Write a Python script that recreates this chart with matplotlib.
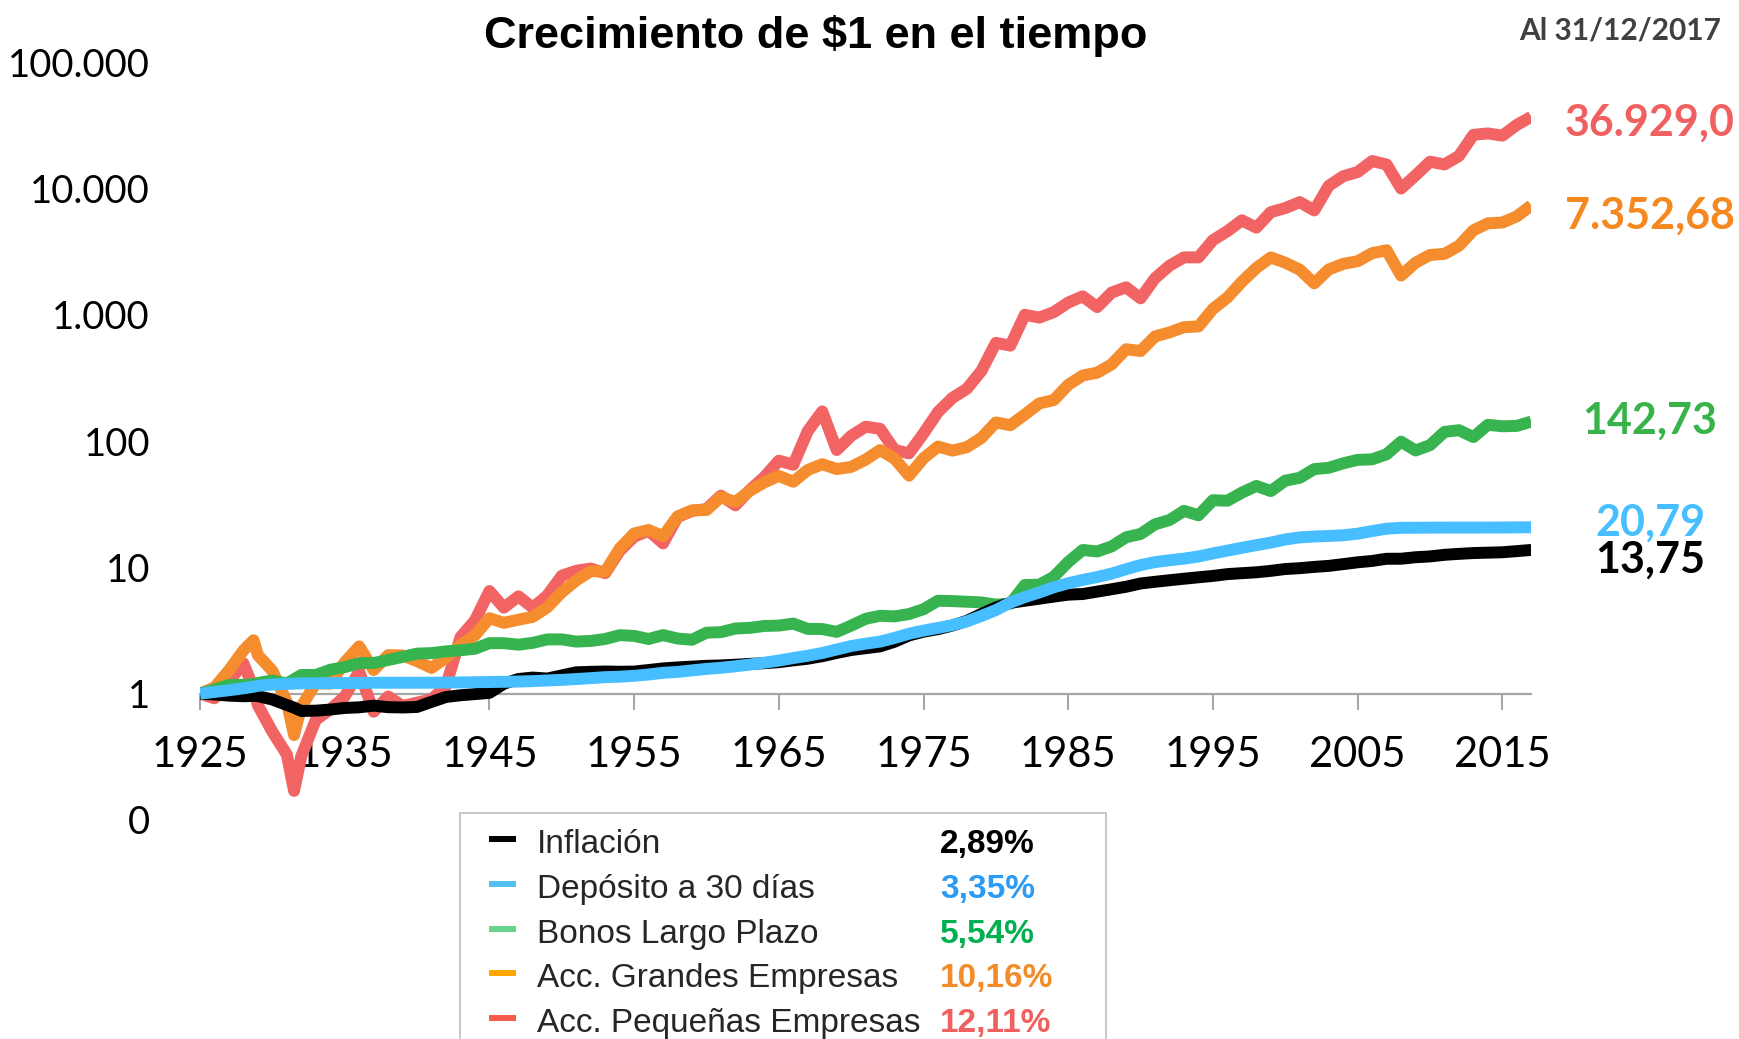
import matplotlib
matplotlib.use('Agg')
import matplotlib.pyplot as plt
from matplotlib.lines import Line2D
from matplotlib.patches import Rectangle
from matplotlib.ticker import NullLocator

# ---------------- data ----------------
anios = [1925, 1926, 1927, 1928, 1928.7, 1929, 1930, 1931, 1931.5] + list(range(1932, 2018))

inflacion = [1.000, 0.985, 0.965, 0.955, 0.960, 0.957, 0.899, 0.814, 0.775, 0.730,
             0.734, 0.749, 0.771, 0.780, 0.804, 0.782, 0.778, 0.785, 0.862, 0.942,
             0.972, 0.993, 1.015, 1.199, 1.307, 1.342, 1.318, 1.395, 1.477, 1.490,
             1.499, 1.492, 1.497, 1.540, 1.586, 1.615, 1.639, 1.663, 1.674, 1.695,
             1.723, 1.743, 1.777, 1.836, 1.892, 1.981, 2.102, 2.218, 2.292, 2.370,
             2.579, 2.894, 3.097, 3.246, 3.466, 3.778, 4.281, 4.812, 5.242, 5.446,
             5.651, 5.870, 6.086, 6.155, 6.430, 6.717, 7.027, 7.460, 7.692, 7.916,
             8.133, 8.351, 8.562, 8.847, 9.000, 9.145, 9.389, 9.707, 9.857, 10.091,
             10.281, 10.616, 10.972, 11.249, 11.704, 11.713, 12.036, 12.216, 12.580, 12.797,
             12.988, 13.081, 13.178, 13.454, 13.75]

deposito = [1.000, 1.033, 1.065, 1.103, 1.135, 1.155, 1.183, 1.196, 1.202, 1.207,
            1.210, 1.212, 1.214, 1.216, 1.221, 1.221, 1.221, 1.221, 1.222, 1.225,
            1.229, 1.233, 1.237, 1.242, 1.248, 1.258, 1.272, 1.287, 1.306, 1.328,
            1.352, 1.364, 1.385, 1.419, 1.464, 1.486, 1.530, 1.571, 1.604, 1.648,
            1.700, 1.760, 1.829, 1.916, 1.997, 2.101, 2.239, 2.385, 2.490, 2.585,
            2.764, 2.986, 3.159, 3.319, 3.489, 3.740, 4.128, 4.592, 5.268, 5.822,
            6.335, 6.959, 7.496, 7.957, 8.393, 8.926, 9.673, 10.429, 11.012, 11.398,
            11.730, 12.201, 12.898, 13.580, 14.295, 15.005, 15.717, 16.648, 17.285, 17.561,
            17.741, 17.959, 18.493, 19.384, 20.259, 20.583, 20.612, 20.641, 20.651, 20.664,
            20.677, 20.683, 20.691, 20.751, 20.79]

bonos = [1.000, 1.078, 1.174, 1.175, 1.190, 1.215, 1.272, 1.204, 1.300, 1.407,
         1.406, 1.547, 1.624, 1.746, 1.750, 1.847, 1.957, 2.076, 2.095, 2.163,
         2.207, 2.270, 2.513, 2.511, 2.445, 2.528, 2.691, 2.692, 2.586, 2.616,
         2.711, 2.906, 2.869, 2.710, 2.912, 2.734, 2.673, 3.041, 3.070, 3.282,
         3.322, 3.438, 3.463, 3.589, 3.259, 3.251, 3.086, 3.460, 3.917, 4.140,
         4.094, 4.272, 4.665, 5.447, 5.410, 5.346, 5.280, 5.071, 5.166, 7.251,
         7.298, 8.427, 11.037, 13.745, 13.372, 14.665, 17.322, 18.392, 21.942, 23.709,
         28.034, 25.856, 34.044, 33.727, 39.074, 44.178, 40.218, 48.638, 51.220, 60.018,
         61.486, 66.667, 71.031, 71.701, 78.676, 98.970, 84.300, 92.848, 118.237, 121.971,
         107.639, 134.624, 131.003, 131.926, 142.73]

grandes = [1.00, 1.12, 1.53, 2.20, 2.65, 2.02, 1.52, 0.86, 0.47, 0.79,
           1.21, 1.20, 1.77, 2.37, 1.54, 2.02, 2.01, 1.81, 1.60, 1.93,
           2.42, 2.90, 3.96, 3.64, 3.85, 4.06, 4.83, 6.36, 7.89, 9.34,
           9.24, 14.11, 18.56, 19.78, 17.65, 25.30, 28.32, 28.46, 36.11, 32.96,
           40.47, 47.14, 53.01, 47.67, 59.10, 65.64, 60.06, 62.46, 71.39, 84.93,
           72.48, 53.30, 73.13, 90.58, 84.07, 89.59, 106.11, 140.51, 133.62, 162.22,
           198.74, 211.20, 279.12, 330.67, 347.96, 405.43, 533.62, 516.70, 674.06, 725.38,
           798.42, 808.90, 1113.26, 1370.05, 1826.82, 2349.60, 2843.88, 2584.91, 2277.85, 1774.43,
           2283.67, 2531.81, 2656.17, 3075.27, 3244.26, 2044.27, 2585.28, 2974.63, 3037.44, 3523.53,
           4664.54, 5302.52, 5375.93, 6019.45, 7352.68]

pequenas = [1.00, 0.92, 1.25, 1.74, 1.10, 0.81, 0.50, 0.33, 0.17, 0.32,
            0.62, 0.75, 0.95, 1.50, 0.72, 0.95, 0.80, 0.85, 0.90, 1.15,
            2.80, 3.80, 6.50, 4.80, 5.90, 4.80, 6.00, 8.60, 9.40, 9.80,
            9.00, 13.5, 17.5, 19.5, 15.5, 25.0, 28.0, 29.0, 37.0, 31.0,
            41.0, 52.0, 70.0, 65.0, 120.0, 172.0, 85.0, 110.0, 130.0, 125.0,
            85.0, 80.0, 115.0, 170.0, 220.0, 260.0, 360.0, 600.0, 570.0, 1000.0,
            950.0, 1050.0, 1250.0, 1400.0, 1150.0, 1500.0, 1650.0, 1350.0, 1950.0, 2450.0,
            2850.0, 2850.0, 3900.0, 4600.0, 5600.0, 4900.0, 6500.0, 7000.0, 7800.0, 6700.0,
            10500.0, 12500.0, 13500.0, 16500.0, 15500.0, 10000.0, 12700.0, 16300.0, 15500.0, 18100.0,
            26600.0, 27300.0, 26200.0, 31900.0, 36929.0]

nombres = ['Inflación', 'Depósito a 30 días', 'Bonos Largo Plazo',
           'Acc. Grandes Empresas', 'Acc. Pequeñas Empresas']
tasas = ['2,89%', '3,35%', '5,54%', '10,16%', '12,11%']
finales = ['13,75', '20,79', '142,73', '7.352,68', '36.929,0']

x_ticks = [1925, 1935, 1945, 1955, 1965, 1975, 1985, 1995, 2005, 2015]
x_labels = ['1925', '1935', '1945', '1955', '1965', '1975', '1985', '1995', '2005', '2015']
y_ticks = [0.1, 1, 10, 100, 1000, 10000, 100000]
y_labels = ['0', '1', '10', '100', '1.000', '10.000', '100.000']

# ---------------- style ----------------
series = [inflacion, deposito, bonos, grandes, pequenas]
line_colors = ['#000000', '#46BEFF', '#37B34F', '#F58C2D', '#F26464']
label_colors = ['#000000', '#46BEFF', '#37B34A', '#F5891F', '#F06060']
handle_colors = ['#000000', '#52C0F0', '#66D48A', '#FFA500', '#F65A4A']
pct_colors = ['#000000', '#2B9BF4', '#00B050', '#F28C28', '#F0605F']
zorders = [4, 5, 3.5, 3.2, 3.0]

LATO = ['Lato', 'DejaVu Sans']
ARIAL = ['Liberation Sans', 'DejaVu Sans']

W, H = 1740, 1039
fig = plt.figure(figsize=(W / 100, H / 100), dpi=100)
fig.patch.set_facecolor('white')

ax = fig.add_axes([200 / W, 1 - 820 / H, (1531.3 - 200) / W, (820 - 62.2) / H])
ax.set_yscale('log')
ax.set_ylim(0.1, 1e5)
ax.set_xlim(1925, 2017)

for vals, c, z in zip(series, line_colors, zorders):
    ax.plot(anios, vals, color=c, lw=8.6, solid_joinstyle='round',
            solid_capstyle='butt', zorder=z)

for s in ['top', 'right', 'left']:
    ax.spines[s].set_visible(False)
ax.spines['bottom'].set_position(('data', 1))
ax.spines['bottom'].set_color('#A6A6A6')
ax.spines['bottom'].set_linewidth(1.6)
ax.spines['bottom'].set_zorder(2)

ax.set_xticks(x_ticks)
ax.set_xticklabels(x_labels, fontsize=30, family=LATO)
ax.tick_params(axis='x', length=11.5, width=1.5, color='#A6A6A6', pad=19,
               direction='out')
ax.set_yticks(y_ticks)
ax.set_yticklabels(y_labels, fontsize=27.5, family=LATO)
ax.yaxis.set_minor_locator(NullLocator())
ax.tick_params(axis='y', length=0, pad=36)

# title and date
fig.text(815.5 / W, 1 - 48 / H, 'Crecimiento de $1 en el tiempo', ha='center',
         va='baseline', fontsize=32.5, fontweight='bold', family=ARIAL)
fig.text(1721.5 / W, 1 - 39.5 / H, 'Al 31/12/2017', ha='right', va='baseline',
         fontsize=21.5, fontweight='bold', family=LATO, color='#404040')

# final values
end_baselines = [573, 536, 434, 229, 136]
for txt, c, yb in zip(finales, label_colors, end_baselines):
    fig.text(1650 / W, 1 - yb / H, txt, ha='center', va='baseline', fontsize=31,
             fontweight='bold', family=LATO, color=c)

# legend box
fig.patches.append(Rectangle((460 / W, -0.2), (1106 - 460) / W, 0.2 + 1 - 813 / H,
                             transform=fig.transFigure, facecolor='white',
                             edgecolor='#BFBFBF', lw=1.2, zorder=1))
for i, (nm, pc, hc, tc) in enumerate(zip(nombres, tasas, handle_colors, pct_colors)):
    yb = 853 + i * 44.8
    fig.lines.append(Line2D([489 / W, 516 / W], [1 - (yb - 14) / H] * 2,
                            transform=fig.transFigure, color=hc, lw=4.3,
                            solid_capstyle='butt', zorder=2))
    fig.text(537 / W, 1 - yb / H, nm, ha='left', va='baseline', fontsize=24,
             family=ARIAL, color='#262626', zorder=2)
    fig.text(940 / W, 1 - yb / H, pc, ha='left', va='baseline', fontsize=24,
             fontweight='bold', family=ARIAL, color=tc, zorder=2)

fig.savefig('out.png', dpi=100, facecolor='white')
